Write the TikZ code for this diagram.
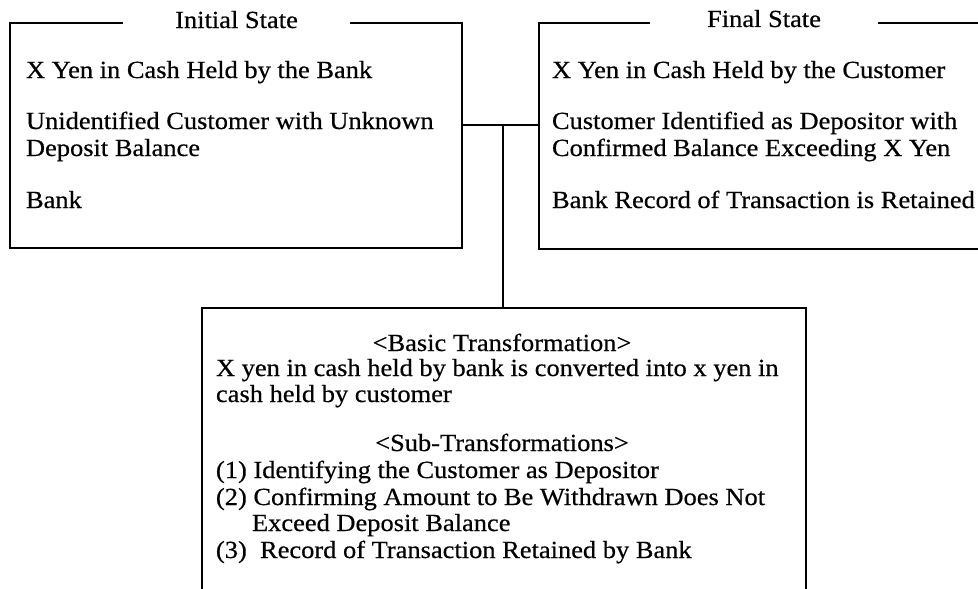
\documentclass[tikz,border=0pt]{standalone}
\usepackage{fontspec}
\setmainfont[FakeStretch=1.075,FakeBold=0.5]{Liberation Serif}
\begin{document}
\begin{tikzpicture}[x=1pt,y=-1pt,
  every node/.style={inner sep=0pt,outer sep=0pt},
  txt/.style={font=\fontsize{24.6}{27}\selectfont,anchor=base west},
  head/.style={font=\fontsize{24.6}{27}\selectfont,anchor=base},
  boxarea/.style={rectangle,anchor=north west},
  frame/.style={line width=1.7pt,line join=miter},
  link/.style={line width=1.6pt}]
\useasboundingbox (0,0) rectangle (978,589);
\clip (0,0) rectangle (978,589);

% invisible areas of the three frames
\node[boxarea,minimum width=452pt,minimum height=225pt] (initial) at (10,23) {};
\node[boxarea,minimum width=460pt,minimum height=226pt] (final) at (539,23) {};
\node[boxarea,minimum width=604pt,minimum height=300pt] (transform) at (202,308) {};

% frame titles sitting in gaps of the top edges
\node[head,minimum width=227pt] (initialTitle) at (236.5,28) {Initial State};
\node[head,minimum width=228pt] (finalTitle) at (764,27) {Final State};

\draw[frame] (initialTitle.west |- initial.north) -- (initial.north west)
  -- (initial.south west) -- (initial.south east) -- (initial.north east)
  -- (initialTitle.east |- initial.north);
\draw[frame] (finalTitle.west |- final.north) -- (final.north west)
  -- (final.south west) -- (final.south east) -- (final.north east)
  -- (finalTitle.east |- final.north);
\draw[frame] (transform.north west) rectangle (transform.south east);

% initial state
\node[txt] (i1) at (26,78) {X Yen in Cash Held by the Bank};
\node[txt] (i2) at (26,129) {Unidentified Customer with Unknown};
\node[txt] (i2b) at (26,156) {Deposit Balance};
\node[txt] (i3) at (26,208) {Bank};

% final state
\node[txt] (f1) at (552,78) {X Yen in Cash Held by the Customer};
\node[txt] (f2) at (552,129) {Customer Identified as Depositor with};
\node[txt] (f2b) at (552,156) {Confirmed Balance Exceeding X Yen};
\node[txt] (f3) at (552,208) {Bank Record of Transaction is Retained};

% transformations
\node[head] (basicHead) at (502,351) {<Basic Transformation>};
\node[txt] (b1) at (216,376) {X yen in cash held by bank is converted into x yen in};
\node[txt] (b1b) at (216,402) {cash held by customer};
\node[head] (subHead) at (502,451) {<Sub-Transformations>};
\node[txt] (s1) at (216,478) {(1) Identifying the Customer as Depositor};
\node[txt] (s2) at (216,505) {(2) Confirming Amount to Be Withdrawn Does Not};
\node[txt] (s2b) at (252,531) {Exceed Deposit Balance};
\node[txt] (s3) at (216,558) {(3)~ Record of Transaction Retained by Bank};

% connector joining the three frames
\coordinate (junction) at (503,125);
\draw[link] (initial.east |- junction) -- (final.west |- junction);
\draw[link] (junction) -- (junction |- transform.north);
\end{tikzpicture}
\end{document}
